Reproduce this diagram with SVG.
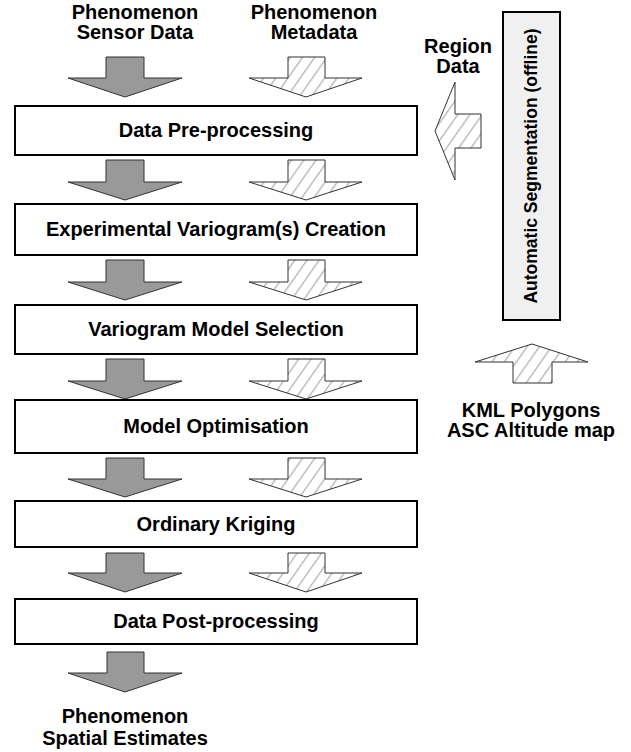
<svg xmlns="http://www.w3.org/2000/svg" width="631" height="752" viewBox="0 0 631 752">
<style>
  text { font-family: "Liberation Sans", Arial, sans-serif; font-weight: bold; fill: #000; }
  .lbl { font-size: 20px; text-anchor: middle; }
  .box { fill: #fff; stroke: #000; stroke-width: 2; }
  .seg { fill: #f0f0f0; stroke: #000; stroke-width: 2; }
  .dark { fill: #999; stroke: #333; stroke-width: 1; }
  .hatch { fill: url(#hatch); stroke: #333; stroke-width: 1; }
</style>
<defs>
  <pattern id="hatch" patternUnits="userSpaceOnUse" width="10" height="10" patternTransform="rotate(35)">
    <rect width="10" height="10" fill="#fff"/>
    <line x1="0" y1="0" x2="0" y2="10" stroke="#b0b0b0" stroke-width="2.5"/>
  </pattern>
</defs>

<g id="labels">
  <text class="lbl" x="135" y="19">Phenomenon</text>
  <text class="lbl" x="135" y="39">Sensor Data</text>
  <text class="lbl" x="314" y="19">Phenomenon</text>
  <text class="lbl" x="314" y="39">Metadata</text>
  <text class="lbl" x="458" y="53">Region</text>
  <text class="lbl" x="458" y="73">Data</text>
  <text class="lbl" x="531" y="417">KML Polygons</text>
  <text class="lbl" x="531" y="437">ASC Altitude map</text>
  <text class="lbl" x="125" y="723">Phenomenon</text>
  <text class="lbl" x="125" y="745">Spatial Estimates</text>
</g>

<g id="connectors">
  <polygon class="dark" points="106,57 144,57 144,78 182,78 125,97 68,78 106,78"/>
  <polygon class="dark" points="106,160 144,160 144,182 182,182 125,200 68,182 106,182"/>
  <polygon class="dark" points="106,260 144,260 144,282 182,282 125,300 68,282 106,282"/>
  <polygon class="dark" points="106,359 144,359 144,381 182,381 125,399 68,381 106,381"/>
  <polygon class="dark" points="106,458 144,458 144,479 182,479 125,497 68,479 106,479"/>
  <polygon class="dark" points="106,553 144,553 144,573 182,573 125,592 68,573 106,573"/>
  <polygon class="dark" points="107,652 144,652 144,673 182,673 125,692 68,673 107,673"/>
  <polygon class="hatch" points="288,57 325,57 325,78 362,78 306,97 249,78 288,78"/>
  <polygon class="hatch" points="288,160 325,160 325,182 362,182 306,200 249,182 288,182"/>
  <polygon class="hatch" points="288,260 325,260 325,282 362,282 306,300 249,282 288,282"/>
  <polygon class="hatch" points="288,359 325,359 325,381 362,381 306,399 249,381 288,381"/>
  <polygon class="hatch" points="288,458 325,458 325,479 362,479 306,497 249,479 288,479"/>
  <polygon class="hatch" points="288,553 325,553 325,573 362,573 306,592 249,573 288,573"/>
  <polygon class="hatch" points="435,131 455,82 455,114 481,114 481,148 455,148 455,180"/>
  <polygon class="hatch" points="532,344 588,362 552,362 552,383 513,383 513,362 475,362"/>
</g>

<g id="n1"><rect class="box" x="15" y="106" width="402" height="49"/><text class="lbl" x="216" y="137">Data Pre-processing</text></g>
<g id="n2"><rect class="box" x="15" y="204" width="402" height="51"/><text class="lbl" x="216" y="236">Experimental Variogram(s) Creation</text></g>
<g id="n3"><rect class="box" x="15" y="305" width="402" height="49"/><text class="lbl" x="216" y="336">Variogram Model Selection</text></g>
<g id="n4"><rect class="box" x="15" y="400" width="402" height="53"/><text class="lbl" x="216" y="433">Model Optimisation</text></g>
<g id="n5"><rect class="box" x="15" y="501" width="402" height="46"/><text class="lbl" x="216" y="531">Ordinary Kriging</text></g>
<g id="n6"><rect class="box" x="15" y="599" width="402" height="45"/><text class="lbl" x="216" y="628">Data Post-processing</text></g>

<g id="seg">
  <rect class="seg" x="503" y="12" width="57" height="308"/>
  <text class="lbl" style="font-size:17.5px" transform="translate(537,166) rotate(-90)">Automatic Segmentation (offline)</text>
</g>
</svg>
